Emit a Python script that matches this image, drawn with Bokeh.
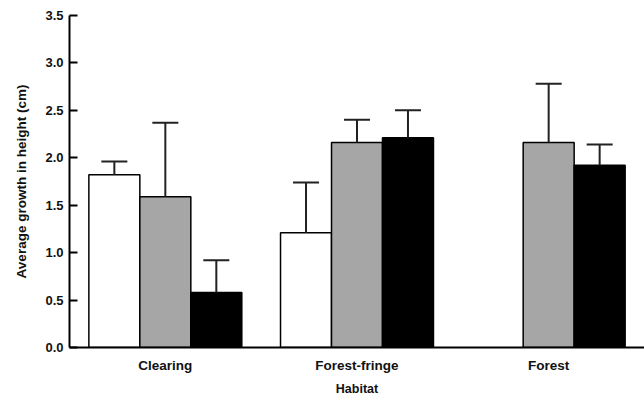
from bokeh.plotting import figure
from bokeh.models import (ColumnDataSource, FactorRange, Range1d, Whisker, TeeHead,
                          FixedTicker, NumeralTickFormatter)
from bokeh.transform import dodge
from bokeh.embed import file_html
from bokeh.resources import INLINE

# ---- data ----
habitats = ["Clearing", "Forest-fringe", "Forest"]
white_mean = [1.82, 1.21, None]
white_err = [0.14, 0.53, None]
gray_mean = [1.59, 2.16, 2.16]
gray_err = [0.78, 0.24, 0.62]
black_mean = [0.58, 2.21, 1.92]
black_err = [0.34, 0.29, 0.22]
y_ticks = [0.0, 0.5, 1.0, 1.5, 2.0, 2.5, 3.0, 3.5]

FONT = "Liberation Sans"

p = figure(x_range=FactorRange(factors=habitats, range_padding=0),
           y_range=Range1d(0, 3.5),
           width=644, height=398, output_backend="svg", toolbar_location=None,
           min_border_left=69, min_border_right=0, min_border_top=15, min_border_bottom=51)

p.outline_line_color = None
p.xgrid.grid_line_color = None
p.ygrid.grid_line_color = None
p.background_fill_color = "white"
p.border_fill_color = "white"

series = [
    (white_mean, white_err, "#ffffff", -0.266),
    (gray_mean, gray_err, "#a6a6a6", 0.0),
    (black_mean, black_err, "#000000", 0.266),
]

for means, errs, color, off in series:
    xs, ms, ups = [], [], []
    for h, m, e in zip(habitats, means, errs):
        if m is None:
            continue
        xs.append(h)
        ms.append(m)
        ups.append(m + e)
    src = ColumnDataSource(dict(habitat=xs, mean=ms, upper=ups))
    w = Whisker(base=dodge("habitat", off, range=p.x_range), upper="upper", lower="mean",
                source=src, dimension="height", line_color="#222222", line_width=2,
                upper_head=TeeHead(size=26, line_color="#222222", line_width=2),
                lower_head=None, level="glyph")
    p.add_layout(w)
    p.vbar(x=dodge("habitat", off, range=p.x_range), top="mean", bottom=0, width=0.266,
           source=src, fill_color=color, line_color="black", line_width=1.5)

# y axis
p.yaxis.ticker = FixedTicker(ticks=y_ticks)
p.yaxis.formatter = NumeralTickFormatter(format="0.0")
p.yaxis.axis_label = "Average growth in height (cm)"
p.yaxis.axis_line_width = 2
p.yaxis.major_tick_line_width = 2
p.yaxis.major_tick_in = 8
p.yaxis.major_tick_out = 0
p.yaxis.minor_tick_line_color = None
p.yaxis.major_label_standoff = 6
p.yaxis.axis_label_standoff = 13
p.yaxis.major_label_text_font = FONT
p.yaxis.major_label_text_font_style = "bold"
p.yaxis.major_label_text_font_size = "13px"
p.yaxis.major_label_text_color = "#111111"
p.yaxis.axis_label_text_font = FONT
p.yaxis.axis_label_text_font_style = "bold"
p.yaxis.axis_label_text_font_size = "13.5px"
p.yaxis.axis_label_text_color = "#111111"

# x axis
p.xaxis.axis_label = "Habitat"
p.xaxis.axis_line_width = 2
p.xaxis.major_tick_line_color = None
p.xaxis.minor_tick_line_color = None
p.xaxis.major_label_standoff = 4
p.xaxis.axis_label_standoff = 6
p.xaxis.major_label_text_font = FONT
p.xaxis.major_label_text_font_style = "bold"
p.xaxis.major_label_text_font_size = "13.5px"
p.xaxis.major_label_text_color = "#111111"
p.xaxis.axis_label_text_font = FONT
p.xaxis.axis_label_text_font_style = "bold"
p.xaxis.axis_label_text_font_size = "12.5px"
p.xaxis.axis_label_text_color = "#111111"

open("out.html", "w").write(file_html(p, INLINE))
